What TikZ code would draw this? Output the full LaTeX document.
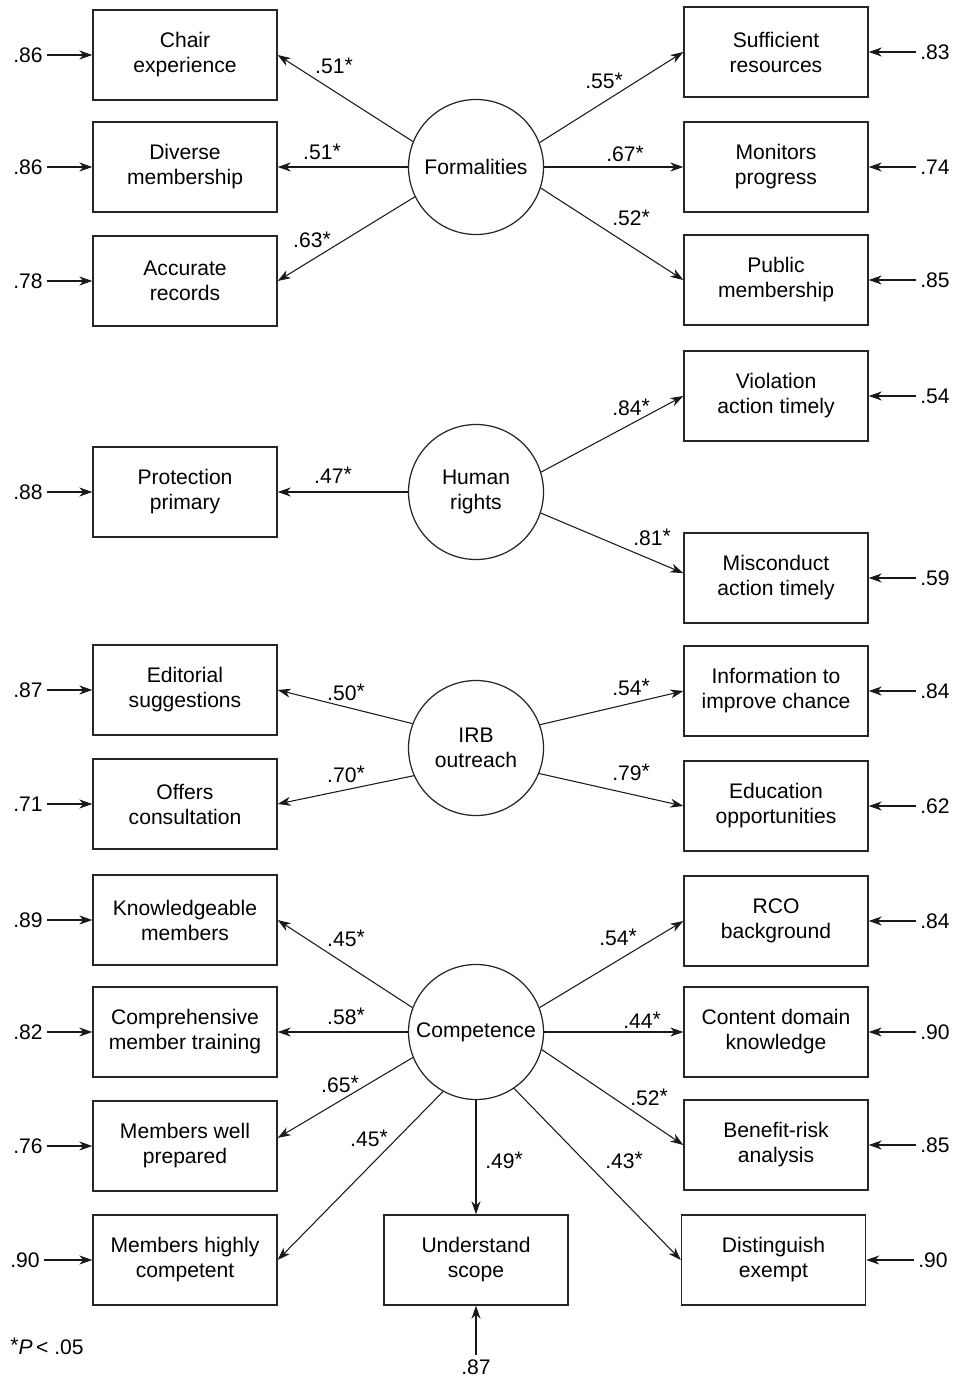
\documentclass[tikz,border=0pt]{standalone}
\usepackage{fontspec}
\setmainfont{Liberation Sans}
\usepackage{tikz}
\usetikzlibrary{arrows.meta, positioning}

\newcommand{\lstar}[1]{#1\raisebox{1pt}{*}}

\tikzset{
  item/.style={draw=black!85, line width=0.8pt, minimum width=3.68cm, minimum height=1.8cm, align=center, inner sep=2pt},
  factor/.style={draw=black!85, line width=0.7pt, circle, minimum size=2.7cm, align=center, inner sep=0pt},
  load/.style={-{Stealth[length=2.6mm, width=1.8mm, inset=0.8mm]}, line width=0.6pt, black!90},
  resid/.style={load},
  coef/.style={anchor=base, inner sep=0pt},
  errval/.style={inner sep=2.5pt},
}

\begin{document}
\begin{tikzpicture}[x=0.02cm, y=-0.02cm, font=\fontsize{12}{14.2}\selectfont]
  % page frame: 954 x 1378 units, y runs downwards
  \useasboundingbox (0,0) rectangle (954,1378);

  % Formalities
  \node[factor] (form) at (476,167) {Formalities};
  \node[item] (chair) at (185,55) {Chair\\experience};
  \node[item] (diverse) at (185,167) {Diverse\\membership};
  \node[item] (accur) at (185,281) {Accurate\\records};
  \node[item] (suffic) at (776,52) {Sufficient\\resources};
  \node[item] (monit) at (776,167) {Monitors\\progress};
  \node[item] (public) at (776,280) {Public\\membership};
  \draw[load] (form.158) -- (chair.east);
  \draw[load] (form) -- (diverse);
  \draw[load] (form.206) -- (accur.east);
  \draw[load] (form.21) -- (suffic.west);
  \draw[load] (form) -- (monit);
  \draw[load] (form.-18) -- (public.west);
  \node[coef] (c1) at (334,74) {\lstar{.51}};
  \node[coef] (c2) at (322,160) {\lstar{.51}};
  \node[coef] (c3) at (312,248) {\lstar{.63}};
  \node[coef] (c4) at (604,89) {\lstar{.55}};
  \node[coef] (c5) at (625,162) {\lstar{.67}};
  \node[coef] (c6) at (631,226) {\lstar{.52}};

  % Human rights
  \node[factor] (hr) at (476,492) {Human\\rights};
  \node[item] (protect) at (185,492) {Protection\\primary};
  \node[item] (violat) at (776,396) {Violation\\action timely};
  \node[item] (miscond) at (776,578) {Misconduct\\action timely};
  \draw[load] (hr) -- (protect);
  \draw[load] (hr.17) -- (violat.west);
  \draw[load] (hr.-18) -- (miscond.177);
  \node[coef] (c7) at (333,483) {\lstar{.47}};
  \node[coef] (c8) at (631,415) {\lstar{.84}};
  \node[coef] (c9) at (652,545) {\lstar{.81}};

  % IRB outreach
  \node[factor] (irb) at (476,748) {IRB\\outreach};
  \node[item] (editor) at (185,690) {Editorial\\suggestions};
  \node[item] (offers) at (185,804) {Offers\\consultation};
  \node[item] (inform) at (776,691) {Information to\\improve chance};
  \node[item] (educ) at (776,806) {Education\\opportunities};
  \draw[load] (irb.159) -- (editor.east);
  \draw[load] (irb.204) -- (offers.east);
  \draw[load] (irb.20) -- (inform.west);
  \draw[load] (irb.-22) -- (educ.west);
  \node[coef] (c10) at (346,700) {\lstar{.50}};
  \node[coef] (c11) at (346,782) {\lstar{.70}};
  \node[coef] (c12) at (631,695) {\lstar{.54}};
  \node[coef] (c13) at (631,780) {\lstar{.79}};

  % Competence
  \node[factor] (comp) at (476,1032) {Competence};
  \node[item] (knowl) at (185,920) {Knowledgeable\\members};
  \node[item] (compr) at (185,1032) {Comprehensive\\member training};
  \node[item] (wellprep) at (185,1146) {Members well\\prepared};
  \node[item] (highly) at (185,1260) {Members highly\\competent};
  \node[item] (underst) at (476,1260) {Understand\\scope};
  \node[item] (rco) at (776,921) {RCO\\background};
  \node[item] (content) at (776,1032) {Content domain\\knowledge};
  \node[item] (benefit) at (776,1145) {Benefit-risk\\analysis};
  \node[item] (disting) at (773.5,1260) {Distinguish\\exempt};
  \draw[load] (comp.159) -- (knowl.east);
  \draw[load] (comp) -- (compr);
  \draw[load] (comp.202) -- (wellprep.5);
  \draw[load] (comp.241) -- (highly.east);
  \draw[load] (comp) -- (underst);
  \draw[load] (comp.-56) -- (disting.west);
  \draw[load] (comp.-15) -- (benefit.west);
  \draw[load] (comp) -- (content);
  \draw[load] (comp.21) -- (rco.west);
  \node[coef] (c14) at (346,946) {\lstar{.45}};
  \node[coef] (c15) at (346,1024) {\lstar{.58}};
  \node[coef] (c16) at (340,1092) {\lstar{.65}};
  \node[coef] (c17) at (369,1146) {\lstar{.45}};
  \node[coef] (c18) at (504,1168) {\lstar{.49}};
  \node[coef] (c19) at (618,945) {\lstar{.54}};
  \node[coef] (c20) at (642,1028) {\lstar{.44}};
  \node[coef] (c21) at (649,1105) {\lstar{.52}};
  \node[coef] (c22) at (624,1168) {\lstar{.43}};

  % residuals, left column
  \node[errval] (e1) at (28,55) {.86};   \draw[resid] (e1) -- (chair);
  \node[errval] (e2) at (28,167) {.86};  \draw[resid] (e2) -- (diverse);
  \node[errval] (e3) at (28,281) {.78};  \draw[resid] (e3) -- (accur);
  \node[errval] (e4) at (28,492) {.88};  \draw[resid] (e4) -- (protect);
  \node[errval] (e5) at (28,690) {.87};  \draw[resid] (e5) -- (editor);
  \node[errval] (e6) at (28,804) {.71};  \draw[resid] (e6) -- (offers);
  \node[errval] (e7) at (28,920) {.89};  \draw[resid] (e7) -- (knowl);
  \node[errval] (e8) at (28,1032) {.82}; \draw[resid] (e8) -- (compr);
  \node[errval] (e9) at (28,1146) {.76}; \draw[resid] (e9) -- (wellprep);
  \node[errval] (e10) at (25,1260) {.90}; \draw[resid] (e10) -- (highly);

  % residuals, right column
  \node[errval] (e11) at (935,52) {.83};   \draw[resid] (e11) -- (suffic);
  \node[errval] (e12) at (935,167) {.74};  \draw[resid] (e12) -- (monit);
  \node[errval] (e13) at (935,280) {.85};  \draw[resid] (e13) -- (public);
  \node[errval] (e14) at (935,396) {.54};  \draw[resid] (e14) -- (violat);
  \node[errval] (e15) at (935,578) {.59};  \draw[resid] (e15) -- (miscond);
  \node[errval] (e16) at (935,691) {.84};  \draw[resid] (e16) -- (inform);
  \node[errval] (e17) at (935,806) {.62};  \draw[resid] (e17) -- (educ);
  \node[errval] (e18) at (935,921) {.84};  \draw[resid] (e18) -- (rco);
  \node[errval] (e19) at (935,1032) {.90}; \draw[resid] (e19) -- (content);
  \node[errval] (e20) at (935,1145) {.85}; \draw[resid] (e20) -- (benefit);
  \node[errval] (e21) at (933,1260) {.90}; \draw[resid] (e21) -- (disting);

  % residual under Understand scope
  \node[errval] (e22) at (476,1367) {.87}; \draw[resid] (e22) -- (underst);

  % footnote
  \node[anchor=base west, inner sep=0pt] (note) at (10,1354) {\raisebox{1pt}{*}\textit{P}\,< .05};
\end{tikzpicture}
\end{document}
